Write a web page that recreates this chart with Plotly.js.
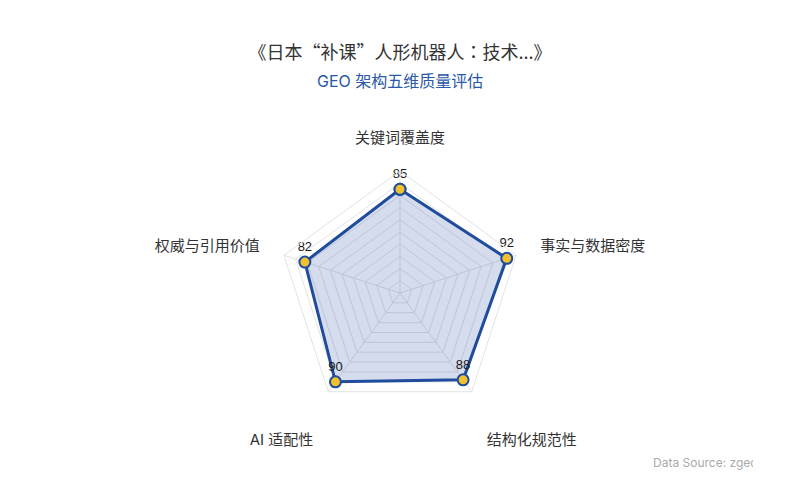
<!DOCTYPE html>
<html>
<head>
<meta charset="utf-8">
<script src="https://cdn.plot.ly/plotly-3.0.1.min.js"></script>
<style>
  html, body { margin: 0; padding: 0; background: #fff; }
  #chart { width: 800px; height: 500px; }
</style>
</head>
<body>
<div id="chart"></div>
<script>
var dimensions = ["关键词覆盖度", "事实与数据密度", "结构化规范性", "AI 适配性", "权威与引用价值"];
var scores = [85, 92, 88, 90, 82];

var chartTitle = "《日本“补课”人形机器人：技术...》";
var chartSubtitle = "GEO 架构五维质量评估";
var sourceNote = "Data Source: zgeo.ai";

var fontFamily = "Inter, 'Noto Sans CJK SC', sans-serif";
var titleFamily = "'Noto Sans CJK TC', 'Noto Sans CJK SC', sans-serif";

// close the polygon
var r = scores.concat([scores[0]]);
var theta = dimensions.concat([dimensions[0]]);

// labels on the lower half sit a line further out
var tickText = dimensions.map(function (d, i) {
  var ang = (90 - i * 360 / dimensions.length) * Math.PI / 180;
  return Math.sin(ang) < -0.5 ? "<br>" + d : d;
});

var trace = {
  type: "scatterpolar",
  r: r,
  theta: theta,
  mode: "lines+markers+text",
  text: scores.map(String).concat([""]),
  textposition: "top center",
  textfont: { size: 13, color: "#1a1a1a", family: "'Liberation Sans', Arial, sans-serif" },
  fill: "toself",
  fillcolor: "rgba(40, 80, 170, 0.2)",
  line: { color: "#1f4c9c", width: 3 },
  marker: {
    size: 11,
    color: "#f2c12e",
    line: { color: "#1f4c9c", width: 2 }
  },
  hoverinfo: "skip",
  showlegend: false
};

var layout = {
  width: 800,
  height: 500,
  paper_bgcolor: "#fff",
  font: { family: fontFamily, color: "#333" },
  margin: { l: 0, r: 0, t: 171, b: 85 },
  title: {
    text: chartTitle,
    font: { size: 18, color: "#333", family: titleFamily },
    x: 0.5,
    xanchor: "center",
    y: 1 - 53 / 500,
    yanchor: "middle"
  },
  polar: {
    bgcolor: "#fff",
    gridshape: "linear",
    radialaxis: {
      range: [0, 100],
      dtick: 10,
      showticklabels: false,
      ticks: "",
      showline: false,
      gridcolor: "#e3e3e3",
      gridwidth: 1
    },
    angularaxis: {
      direction: "clockwise",
      rotation: 90,
      tickmode: "array",
      tickvals: dimensions,
      ticktext: tickText,
      ticks: "outside",
      ticklen: 22,
      tickcolor: "rgba(0,0,0,0)",
      tickfont: { size: 15, color: "#333", family: fontFamily },
      linecolor: "#e3e3e3",
      gridcolor: "#e3e3e3"
    }
  },
  annotations: [
    {
      text: chartSubtitle,
      xref: "paper", yref: "paper",
      x: 0.5, y: (500 - 81 - 85) / 244,
      xanchor: "center", yanchor: "middle",
      showarrow: false,
      font: { size: 16, color: "#2a58a8", family: fontFamily }
    },
    {
      text: sourceNote,
      xref: "paper", yref: "paper",
      x: 651 / 800, y: (500 - 462 - 85) / 244,
      xanchor: "left", yanchor: "middle",
      width: 100,
      align: "left",
      showarrow: false,
      font: { size: 12, color: "#aaa", family: fontFamily }
    }
  ]
};

Plotly.newPlot("chart", [trace], layout, { displayModeBar: false, staticPlot: true });
</script>
</body>
</html>
